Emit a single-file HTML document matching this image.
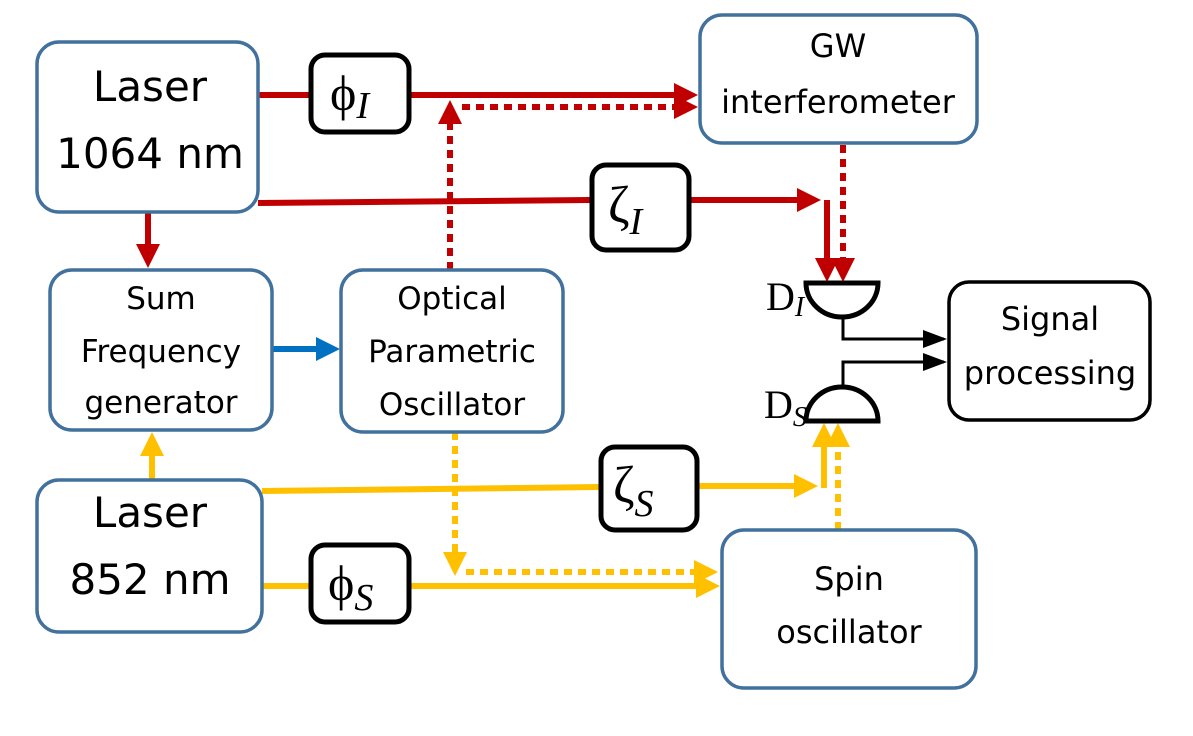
<!DOCTYPE html>
<html><head><meta charset="utf-8"><style>
html,body{margin:0;padding:0;background:#fff;}
svg{display:block;font-family:"Liberation Sans",sans-serif;}
.b{fill:#fff;stroke:#41719c;stroke-width:3.5;}
.k{fill:#fff;stroke:#000;stroke-width:5;}
.t{font-family:"DejaVu Sans","Liberation Sans",sans-serif;text-anchor:middle;fill:#000;}
.g{font-family:"Liberation Serif",serif;fill:#000;}
</style></head><body>
<svg width="1193" height="736" viewBox="0 0 1193 736">
<defs>
<marker id="ar" markerWidth="4" markerHeight="4" refX="3" refY="2" orient="auto" markerUnits="strokeWidth"><path d="M0,0 L4,2 L0,4z" fill="#c00000"/></marker>
<marker id="ay" markerWidth="4" markerHeight="4" refX="3" refY="2" orient="auto" markerUnits="strokeWidth"><path d="M0,0 L4,2 L0,4z" fill="#ffc000"/></marker>
<marker id="ab" markerWidth="4" markerHeight="4" refX="3" refY="2" orient="auto" markerUnits="strokeWidth"><path d="M0,0 L4,2 L0,4z" fill="#0070c0"/></marker>
<marker id="ak" markerWidth="8" markerHeight="8" refX="7" refY="4" orient="auto" markerUnits="strokeWidth"><path d="M0,1 L8,4 L0,7z" fill="#000"/></marker>
</defs>
<g fill="none" stroke-width="6">
<line x1="258" y1="95" x2="310" y2="95" stroke="#c00000"/>
<line x1="410" y1="95" x2="692" y2="95" stroke="#c00000" marker-end="url(#ar)"/>
<line x1="450" y1="270" x2="450" y2="106" stroke="#c00000" stroke-dasharray="8,6" marker-end="url(#ar)"/>
<line x1="462" y1="107" x2="692" y2="107" stroke="#c00000" stroke-dasharray="8,6" marker-end="url(#ar)"/>
<line x1="258" y1="203" x2="590" y2="200" stroke="#c00000"/>
<line x1="690" y1="200" x2="815" y2="200" stroke="#c00000" marker-end="url(#ar)"/>
<polyline points="827,200 827,276" stroke="#c00000" marker-end="url(#ar)"/>
<line x1="843" y1="145" x2="843" y2="276" stroke="#c00000" stroke-dasharray="8,6" marker-end="url(#ar)"/>
<line x1="148" y1="212" x2="148" y2="262" stroke="#c00000" marker-end="url(#ar)"/>
<line x1="272" y1="349" x2="334" y2="349" stroke="#0070c0" marker-end="url(#ab)"/>
<line x1="152" y1="480" x2="152" y2="438" stroke="#ffc000" marker-end="url(#ay)"/>
<line x1="262" y1="491" x2="600" y2="487" stroke="#ffc000"/>
<line x1="697" y1="486" x2="812" y2="486" stroke="#ffc000" marker-end="url(#ay)"/>
<line x1="824" y1="488" x2="824" y2="429" stroke="#ffc000" marker-end="url(#ay)"/>
<line x1="838" y1="530" x2="838" y2="429" stroke="#ffc000" stroke-dasharray="8,6" marker-end="url(#ay)"/>
<line x1="455" y1="432" x2="455" y2="570" stroke="#ffc000" stroke-dasharray="8,6" marker-end="url(#ay)"/>
<line x1="466" y1="572" x2="712" y2="572" stroke="#ffc000" stroke-dasharray="8,6" marker-end="url(#ay)"/>
<line x1="262" y1="586" x2="310" y2="586" stroke="#ffc000"/>
<line x1="410" y1="586" x2="714" y2="586" stroke="#ffc000" marker-end="url(#ay)"/>
</g>
<g fill="none" stroke="#000" stroke-width="3">
<polyline points="843,318 843,339 944,339" marker-end="url(#ak)"/>
<polyline points="843,388 843,362 944,362" marker-end="url(#ak)"/>
</g>
<path d="M806,283 L878,283 A36,34 0 0 1 806,283 Z" fill="#fff" stroke="#000" stroke-width="5"/>
<path d="M806,421 L878,421 A36,34 0 0 0 806,421 Z" fill="#fff" stroke="#000" stroke-width="5"/>
<text class="g" x="766" y="310" font-size="40">D<tspan font-style="italic" font-size="28" dy="6">I</tspan></text>
<text class="g" x="764" y="418" font-size="40">D<tspan font-style="italic" font-size="28" dy="8">S</tspan></text>
<rect class="b" x="37" y="42" width="221" height="170" rx="22"/>
<text class="t" x="150" y="101" font-size="42">Laser</text>
<text class="t" x="150" y="168" font-size="42">1064 nm</text>
<rect class="b" x="700" y="15" width="277" height="128" rx="22"/>
<text class="t" x="838" y="57" font-size="32">GW</text>
<text class="t" x="838" y="113" font-size="32">interferometer</text>
<rect class="b" x="50" y="270" width="222" height="160" rx="22"/>
<text class="t" x="161" y="309" font-size="31">Sum</text>
<text class="t" x="161" y="362" font-size="31">Frequency</text>
<text class="t" x="161" y="413" font-size="31">generator</text>
<rect class="b" x="341" y="270" width="222" height="162" rx="22"/>
<text class="t" x="452" y="309" font-size="31">Optical</text>
<text class="t" x="452" y="362" font-size="31">Parametric</text>
<text class="t" x="452" y="415" font-size="31">Oscillator</text>
<rect class="b" x="37" y="480" width="225" height="152" rx="22"/>
<text class="t" x="150" y="527" font-size="42">Laser</text>
<text class="t" x="150" y="594" font-size="42">852 nm</text>
<rect class="b" x="722" y="530" width="254" height="158" rx="22"/>
<text class="t" x="849" y="590" font-size="32">Spin</text>
<text class="t" x="849" y="643" font-size="32">oscillator</text>
<rect x="949" y="282" width="201" height="138" rx="20" fill="#fff" stroke="#000" stroke-width="3.5"/>
<text class="t" x="1050" y="330" font-size="32">Signal</text>
<text class="t" x="1050" y="384" font-size="32">processing</text>
<rect class="k" x="311" y="55" width="98" height="77" rx="14"/>
<text class="g" x="330" y="110" font-size="50">ϕ<tspan font-style="italic" font-size="38" dy="8">I</tspan></text>
<rect class="k" x="592" y="165" width="97" height="85" rx="14"/>
<text class="g" x="608" y="222" font-size="52">ζ<tspan font-style="italic" font-size="38" dy="12">I</tspan></text>
<rect class="k" x="601" y="447" width="96" height="83" rx="14"/>
<text class="g" x="613" y="502" font-size="52">ζ<tspan font-style="italic" font-size="38" dy="14">S</tspan></text>
<rect class="k" x="311" y="545" width="98" height="77" rx="14"/>
<text class="g" x="328" y="600" font-size="50">ϕ<tspan font-style="italic" font-size="38" dy="10">S</tspan></text>
</svg>
</body></html>
